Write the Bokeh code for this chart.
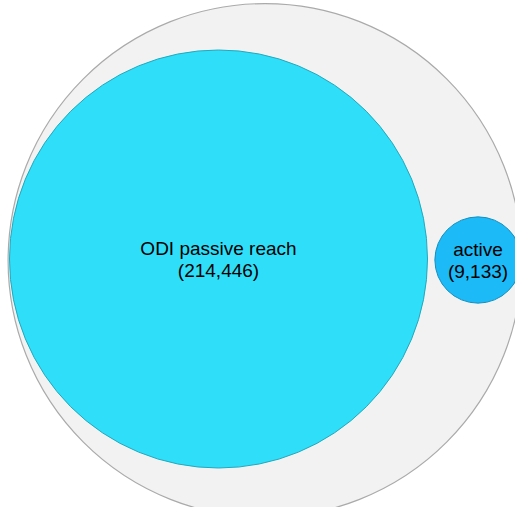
import numpy as np
from bokeh.plotting import figure
from bokeh.models import ColumnDataSource, Range1d
from bokeh.core.properties import value
from bokeh.embed import file_html
from bokeh.resources import INLINE

labels = ["ODI passive reach", "active"]
counts = [214446, 9133]
total_estimate = 324000  # outer circle

W, H = 515, 507
scale = 209 / np.sqrt(counts[0])

p = figure(width=W, height=H, x_range=Range1d(-7, W - 7), y_range=Range1d(7, H + 7),
           output_backend="svg", toolbar_location=None, min_border=0)
p.axis.visible = False
p.grid.visible = False
p.outline_line_color = None
p.background_fill_color = "white"

p.circle(x=[257.5], y=[254], radius=[scale * np.sqrt(total_estimate)],
         fill_color="#f2f2f2", line_color="#aaaaaa", line_width=1.2)

src = ColumnDataSource(dict(
    x=[211, 470.5], y=[255.5, 254.5],
    r=[scale * np.sqrt(c) for c in counts],
    fill=["#2fdff9", "#1cbaf6"], line=["#22a8bd", "#1590c0"],
    name=labels, num=["({:,})".format(c) for c in counts]))
p.circle(x="x", y="y", radius="r", fill_color="fill", line_color="line",
         line_width=1, source=src)
p.text(x="x", y="y", text="name", source=src, text_align="center",
       text_baseline="bottom", y_offset=0, text_font=value("Liberation Sans"),
       text_font_size="19px", text_color="black")
p.text(x="x", y="y", text="num", source=src, text_align="center",
       text_baseline="top", y_offset=1, text_font=value("Liberation Sans"),
       text_font_size="19px", text_color="black")

open("out.html", "w").write(file_html(p, INLINE))
